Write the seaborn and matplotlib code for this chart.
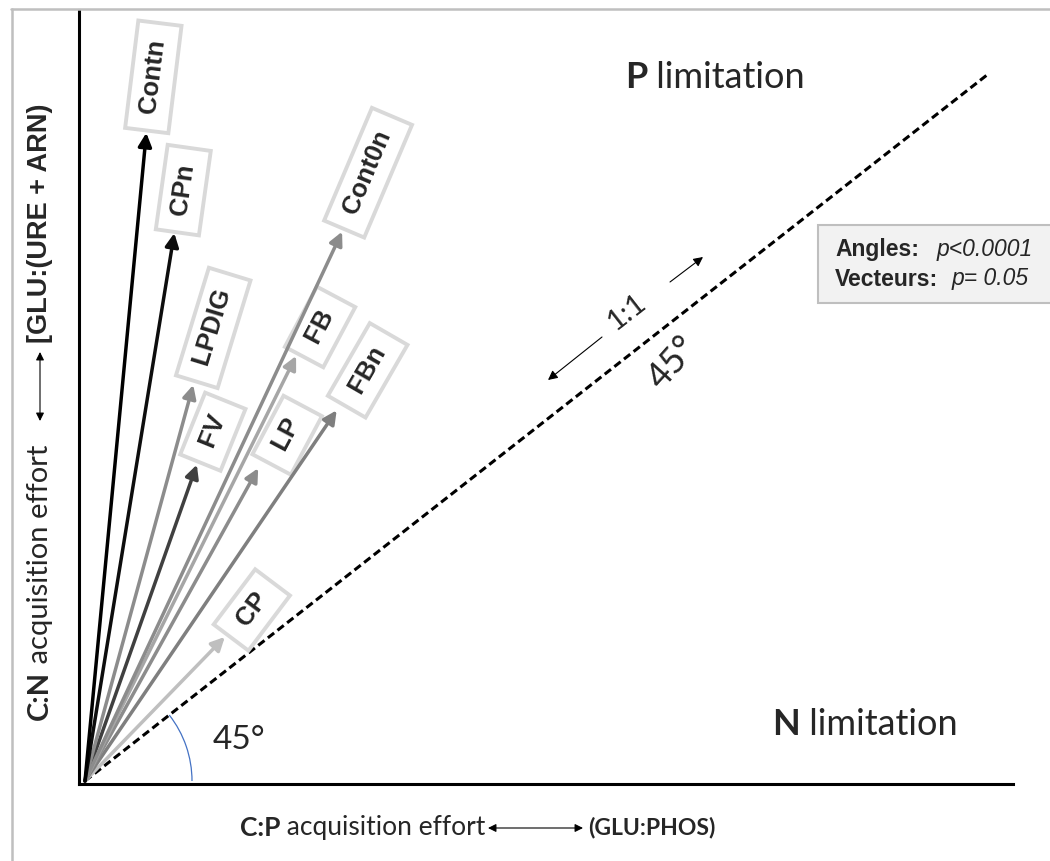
import numpy as np
import pandas as pd
import matplotlib.pyplot as plt
import seaborn as sns
from matplotlib.patches import Arc, Rectangle
from matplotlib.lines import Line2D

# vector tips (C:P effort, C:N effort), scaled so the 1:1 line ends at (1, 1)
treatments = ["CP", "FBn", "LP", "FB", "FV", "LPDIG", "Cont0n", "CPn", "Contn"]
cp_effort = [0.155, 0.279, 0.192, 0.234, 0.124, 0.120, 0.285, 0.099, 0.068]
cn_effort = [0.204, 0.525, 0.443, 0.602, 0.448, 0.561, 0.778, 0.776, 0.918]
greys = ["#bfbfbf", "#7f7f7f", "#8c8c8c", "#a6a6a6", "#404040",
         "#8c8c8c", "#8c8c8c", "#0d0d0d", "#000000"]
one_to_one = [0.0, 1.0]
angles_p = "p<0.0001"
vectors_p = "p= 0.05"

# label box placement: offset from arrow tip (pixels) and text rotation
label_layout = {
    "CP": (27, 27, 53), "FBn": (31, 40, 60), "LP": (29, 33, 62),
    "FB": (24, 29, 62), "FV": (16, 33, 68), "LPDIG": (20, 57, 73),
    "Cont0n": (26, 59, 67), "CPn": (9, 43, 82), "Contn": (7, 56, 83),
}

df = pd.DataFrame({"treatment": treatments, "cp": cp_effort,
                   "cn": cn_effort, "color": greys})

W, H = 1050, 861
sns.set_style("white")
plt.rcParams["font.family"] = ["Lato", "DejaVu Sans"]

fig = plt.figure(figsize=(W / 100, H / 100), dpi=100)
ax = fig.add_axes([79 / W, (H - 784) / H, (1013 - 79) / W, (784 - 10) / H])
ax.set_xlim(-0.00665, 1.0288)
ax.set_ylim(-0.00425, 1.092)
for side in ["top", "right"]:
    ax.spines[side].set_visible(False)
for side in ["left", "bottom"]:
    ax.spines[side].set_color("black")
    ax.spines[side].set_linewidth(2.2)
ax.set_xticks([])
ax.set_yticks([])
ax.set_xlabel("")
ax.set_ylabel("")


def fp(x, y):
    # image pixel (top-left origin) -> figure fraction
    return x / W, 1 - y / H


# 1:1 line
sns.lineplot(x=one_to_one, y=one_to_one, ax=ax, color="black", lw=2.2,
             linestyle=(0, (2.6, 1.4)), legend=False, zorder=2)

# treatment vectors + labels
arial = ["Liberation Sans", "DejaVu Sans"]
for _, row in df.iterrows():
    ax.annotate("", xy=(row.cp, row.cn), xytext=(0, 0),
                arrowprops=dict(arrowstyle="-|>", color=row.color, lw=2.5,
                                shrinkA=0, shrinkB=0, mutation_scale=20),
                zorder=4)
for _, row in df.iterrows():
    dx, dy, rot = label_layout[row.treatment]
    ax.annotate(f" {row.treatment} ", xy=(row.cp, row.cn), xytext=(dx, dy),
                textcoords="offset pixels", ha="center", va="center",
                rotation=rot, rotation_mode="anchor", fontsize=18.5,
                fontweight="bold", family=arial, zorder=3,
                bbox=dict(boxstyle="square,pad=0.38", fc="white",
                          ec="#d9d9d9", lw=2.8))

# 45 degree arc at origin
o = ax.transData.transform((0, 0))
px_x = ax.transData.transform((1, 0))[0] - o[0]
px_y = ax.transData.transform((0, 1))[1] - o[1]
r = 107
ax.add_patch(Arc((0, 0), 2 * r / px_x, 2 * r / px_y, theta1=0, theta2=45,
                 color="#4472c4", lw=0.9, zorder=2))
fig.text(*fp(213, 740), "45°", fontsize=24, va="center", ha="left")

# 1:1 annotation along the line
fig.text(*fp(673, 363), "45°", fontsize=26, rotation=48, ha="center",
         va="center", rotation_mode="anchor")
fig.text(*fp(627, 312), "1:1", fontsize=21, rotation=38, ha="center",
         va="center", rotation_mode="anchor")
for a, b in [((602, 337), (548, 380)), ((670, 282), (703, 257))]:
    ax.annotate("", xy=fp(*b), xytext=fp(*a), xycoords="figure fraction",
                textcoords="figure fraction",
                arrowprops=dict(arrowstyle="-|>", color="black", lw=0.8,
                                shrinkA=0, shrinkB=0, mutation_scale=14))

# limitation labels
t = fig.text(*fp(625, 88), "P", fontsize=26, fontweight="bold", va="baseline")
ax.annotate(" limitation", xy=(1, 0), xycoords=t, va="bottom", ha="left",
            fontsize=26, annotation_clip=False)
t = fig.text(*fp(772, 735), "N", fontsize=26, fontweight="bold", va="baseline")
ax.annotate(" limitation", xy=(1, 0), xycoords=t, va="bottom", ha="left",
            fontsize=26, annotation_clip=False)

# stats box
fig.add_artist(Rectangle(fp(818, 303), (W + 10 - 818) / W, 78 / H,
                         transform=fig.transFigure, fc="#f2f2f2",
                         ec="#bfbfbf", lw=1.5))
fig.text(*fp(835, 249), "Angles:", fontsize=16.5, fontweight="bold",
         family=arial, va="center")
fig.text(*fp(937, 249), angles_p, fontsize=16.5, style="italic",
         family=arial, va="center")
fig.text(*fp(835, 279), "Vecteurs:", fontsize=16.5, fontweight="bold",
         family=arial, va="center")
fig.text(*fp(952, 279), vectors_p, fontsize=16.5, style="italic",
         family=arial, va="center")

# x axis label
t = fig.text(*fp(240, 828), "C:P", fontsize=19, fontweight="bold", va="center")
ax.annotate(" acquisition effort", xy=(1, 0), xycoords=t, va="bottom",
            ha="left", fontsize=19, annotation_clip=False)
ax.annotate("", xy=(583 / W, 1 - 828 / H), xytext=(488 / W, 1 - 828 / H),
            xycoords="figure fraction",
            arrowprops=dict(arrowstyle="<|-|>", color="black", lw=0.8,
                            shrinkA=0, shrinkB=0, mutation_scale=12))
fig.text(*fp(588, 828), "(GLU:PHOS)", fontsize=16.5, fontweight="bold",
         va="center")

# y axis label
t = fig.text(*fp(40, 720), "C:N", fontsize=21, fontweight="bold",
             rotation=90, ha="center", va="bottom")
ax.annotate(" acquisition effort", xy=(1, 1), xycoords=t, va="bottom",
            ha="right", rotation=90, fontsize=21, annotation_clip=False)
ax.annotate("", xy=(40 / W, 1 - 352 / H), xytext=(40 / W, 1 - 421 / H),
            xycoords="figure fraction",
            arrowprops=dict(arrowstyle="<|-|>", color="black", lw=0.8,
                            shrinkA=0, shrinkB=0, mutation_scale=12))
fig.text(*fp(40, 343), "[GLU:(URE + ARN)", fontsize=19.5, fontweight="bold",
         family=arial, rotation=90, ha="center", va="bottom")

# frame around the figure (top and left edges)
fig.add_artist(Line2D([11 / W, 1], [1 - 9 / H] * 2, transform=fig.transFigure,
                      color="#bfbfbf", lw=1.8))
fig.add_artist(Line2D([12 / W] * 2, [0, 1 - 9 / H], transform=fig.transFigure,
                      color="#bfbfbf", lw=1.8))

fig.savefig("out.png", dpi=100)
